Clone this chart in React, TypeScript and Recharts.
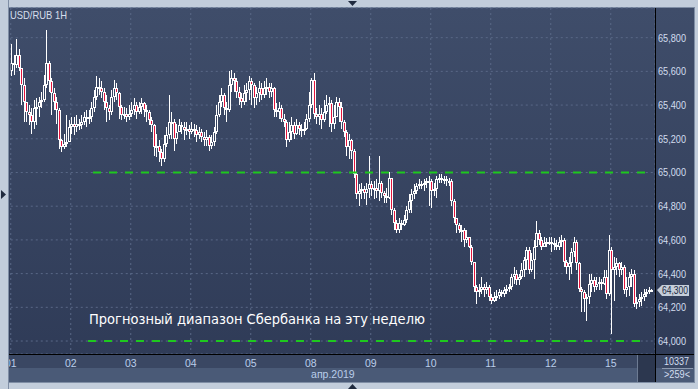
import { ComposedChart, Bar, XAxis, YAxis, CartesianGrid, ReferenceLine } from "recharts"

// hourly USD/RUB candles, 1–15 April 2019 (open = previous close)
const FIRST_OPEN = 65600

const CLOSES = [
  // 01
  65650, 65640, 65700, 65620, 65520, 65420, 65360, 65340, 65300, 65380, 65390, 65420, 65430, 65520, 65650, 65540, 65470, 65420, 65370, 65190, 65150, 65170, 65180, 65270,
  // 02
  65290, 65270, 65290, 65280, 65300, 65330, 65320, 65330, 65380, 65450, 65510, 65500, 65480, 65420, 65380, 65360, 65450, 65500, 65470, 65390, 65340, 65350, 65330, 65350,
  // 03
  65370, 65400, 65360, 65390, 65410, 65370, 65360, 65310, 65280, 65150, 65160, 65120, 65080, 65170, 65220, 65300, 65300, 65200, 65240, 65280, 65270, 65250, 65260, 65240,
  // 04
  65260, 65250, 65220, 65240, 65210, 65190, 65210, 65160, 65180, 65240, 65340, 65420, 65460, 65380, 65370, 65520, 65560, 65540, 65480, 65440, 65420, 65470, 65490, 65540,
  // 05
  65520, 65440, 65470, 65500, 65460, 65500, 65510, 65480, 65500, 65370, 65360, 65380, 65320, 65300, 65190, 65240, 65280, 65230, 65280, 65260, 65250, 65260, 65320, 65400,
  // 08
  65550, 65350, 65330, 65350, 65310, 65360, 65400, 65410, 65290, 65330, 65420, 65390, 65300, 65240, 65150, 65190, 65130, 64990, 64870, 64890, 64900, 64880, 64900, 64930,
  // 09
  64900, 64910, 64890, 64940, 64880, 64860, 64850, 64970, 64780, 64700, 64660, 64700, 64690, 64720, 64780, 64830, 64870, 64890, 64920, 64930, 64930, 64940, 64950, 64950,
  // 10
  64890, 64900, 64960, 64970, 64960, 64960, 64950, 64950, 64830, 64730, 64690, 64660, 64660, 64600, 64620, 64560, 64470, 64320, 64290, 64300, 64320, 64300, 64320, 64260,
  // 11
  64240, 64260, 64270, 64290, 64280, 64300, 64310, 64320, 64380, 64400, 64360, 64380, 64420, 64480, 64540, 64420, 64480, 64560, 64640, 64600, 64560, 64580, 64590, 64590,
  // 12
  64580, 64570, 64560, 64590, 64600, 64470, 64440, 64460, 64530, 64590, 64460, 64310, 64290, 64250, 64260, 64340, 64360, 64320, 64340, 64350, 64340, 64380, 64280, 64540,
  // 15
  64420, 64440, 64460, 64420, 64440, 64300, 64320, 64380, 64400, 64220, 64230, 64250, 64260, 64280, 64290, 64300, 64300,
]

const HIGHS = [
  65760, 65700, 65790, 65730, 65620, 65560, 65420, 65400, 65380, 65430, 65440, 65450, 65480, 65580, 65845, 65660, 65560, 65500, 65450, 65380, 65200, 65230, 65340, 65310,
  65330, 65330, 65340, 65320, 65340, 65360, 65370, 65370, 65420, 65490, 65570, 65560, 65540, 65500, 65460, 65400, 65490, 65550, 65530, 65480, 65400, 65390, 65380, 65400,
  65420, 65440, 65420, 65420, 65440, 65420, 65400, 65370, 65330, 65290, 65230, 65190, 65140, 65220, 65270, 65460, 65360, 65320, 65290, 65320, 65300, 65300, 65300, 65280,
  65300, 65290, 65280, 65270, 65260, 65240, 65250, 65220, 65220, 65270, 65400, 65460, 65500, 65470, 65420, 65600, 65610, 65590, 65560, 65510, 65470, 65520, 65530, 65570,
  65560, 65530, 65510, 65540, 65530, 65540, 65560, 65530, 65530, 65510, 65410, 65420, 65400, 65350, 65310, 65300, 65330, 65300, 65320, 65300, 65290, 65300, 65350, 65480,
  65560, 65590, 65380, 65400, 65380, 65430, 65460, 65450, 65430, 65400, 65450, 65440, 65420, 65310, 65250, 65230, 65200, 65140, 65000, 64930, 64940, 64920, 64940, 65100,
  64950, 64950, 64960, 65100, 64950, 64890, 64910, 65000, 64970, 64790, 64720, 64730, 64720, 64750, 64800, 64870, 64900, 64930, 64940, 64960, 64950, 64960, 64970, 64980,
  64960, 64940, 64980, 64990, 64990, 64980, 64980, 64970, 64960, 64840, 64730, 64700, 64690, 64670, 64660, 64620, 64570, 64470, 64330, 64340, 64380, 64340, 64350, 64330,
  64280, 64290, 64300, 64310, 64300, 64320, 64330, 64340, 64400, 64440, 64420, 64400, 64460, 64500, 64560, 64560, 64520, 64600, 64710, 64660, 64620, 64620, 64610, 64620,
  64620, 64610, 64600, 64620, 64630, 64610, 64480, 64500, 64550, 64620, 64600, 64470, 64320, 64300, 64280, 64400, 64400, 64380, 64380, 64380, 64370, 64420, 64420, 64630,
  64560, 64500, 64490, 64470, 64470, 64450, 64380, 64410, 64430, 64420, 64260, 64280, 64290, 64310, 64310, 64320, 64310,
]

const LOWS = [
  65570, 65580, 65620, 65600, 65400, 65300, 65300, 65280, 65230, 65260, 65280, 65330, 65380, 65420, 65500, 65480, 65340, 65370, 65290, 65140, 65120, 65140, 65150, 65230,
  65230, 65220, 65240, 65250, 65260, 65280, 65270, 65290, 65300, 65360, 65430, 65460, 65440, 65370, 65300, 65310, 65340, 65420, 65430, 65320, 65310, 65320, 65300, 65310,
  65330, 65340, 65320, 65350, 65350, 65330, 65300, 65280, 65240, 65100, 65090, 65060, 65040, 65060, 65150, 65200, 65200, 65130, 65170, 65240, 65230, 65190, 65220, 65200,
  65230, 65210, 65180, 65200, 65180, 65160, 65160, 65130, 65140, 65160, 65230, 65330, 65390, 65340, 65300, 65360, 65480, 65480, 65440, 65400, 65380, 65400, 65420, 65430,
  65400, 65380, 65400, 65420, 65430, 65440, 65460, 65440, 65450, 65330, 65330, 65320, 65300, 65270, 65150, 65180, 65190, 65200, 65220, 65220, 65210, 65220, 65250, 65300,
  65380, 65320, 65290, 65280, 65260, 65300, 65350, 65270, 65240, 65260, 65330, 65300, 65260, 65210, 65100, 65080, 65080, 64970, 64840, 64800, 64840, 64840, 64810, 64850,
  64860, 64840, 64850, 64830, 64850, 64820, 64820, 64840, 64750, 64660, 64640, 64640, 64660, 64680, 64700, 64760, 64760, 64840, 64870, 64900, 64900, 64890, 64910, 64800,
  64790, 64860, 64850, 64940, 64940, 64930, 64920, 64920, 64800, 64700, 64640, 64640, 64590, 64560, 64580, 64550, 64450, 64290, 64220, 64260, 64280, 64260, 64280, 64240,
  64220, 64230, 64240, 64250, 64260, 64260, 64280, 64290, 64300, 64340, 64330, 64330, 64370, 64380, 64420, 64400, 64410, 64370, 64560, 64570, 64540, 64560, 64560, 64570,
  64530, 64540, 64540, 64540, 64560, 64440, 64400, 64360, 64400, 64500, 64420, 64290, 64170, 64170, 64120, 64220, 64290, 64290, 64300, 64300, 64300, 64330, 64250, 64270,
  64040, 64240, 64390, 64380, 64390, 64280, 64260, 64270, 64320, 64200, 64190, 64200, 64210, 64240, 64260, 64280, 64290,
]

const DAY_LABELS = ["01", "02", "03", "04", "05", "08", "09", "10", "11", "12", "15"]
const DAY_TICKS = [-0.5, 23.5, 47.5, 71.5, 95.5, 119.5, 143.5, 167.5, 191.5, 215.5, 239.5]
const PRICE_TICKS = [64000, 64200, 64400, 64600, 64800, 65000, 65200, 65400, 65600, 65800]

const FORECAST_HIGH = 65000
const FORECAST_LOW = 64000
const LAST_PRICE = 64300

const candles = CLOSES.map((close, i) => {
  const open = i === 0 ? FIRST_OPEN : CLOSES[i - 1]
  const high = Math.max(HIGHS[i], open, close)
  const low = Math.min(LOWS[i], open, close)
  return { i, open, close, high, low, range: [low, high] }
})

const RED = "#e3143c"

function Candle(props: any) {
  const { x, y, width, height, payload } = props
  if (x == null || !payload) return <g />
  const { open, close, high, low } = payload
  const span = high - low || 1
  const py = (v: number) => y + ((high - v) / span) * height
  const cx = Math.floor(x + width / 2)
  const yh = Math.round(py(high))
  const yl = Math.round(py(low))
  const top = Math.round(py(Math.max(open, close)))
  let bot = Math.round(py(Math.min(open, close)))
  if (bot - top < 2) bot = top + 2
  const down = close < open
  const h = bot - top
  return (
    <g shapeRendering="crispEdges">
      {top > yh && <rect x={cx} y={yh} width={1} height={top - yh} fill="#ffffff" />}
      {yl > bot && <rect x={cx} y={bot} width={1} height={yl - bot} fill="#ffffff" />}
      <rect x={cx - 1} y={top} width={3} height={h} fill="#ffffff" />
      {h >= 3 && (
        <rect x={cx} y={top + 1} width={1} height={h - 2} fill={down ? RED : "#36435f"} />
      )}
    </g>
  )
}

function DayTick({ x, payload }: any) {
  const label = DAY_LABELS[DAY_TICKS.indexOf(payload.value)]
  return (
    <text x={x} y={367} textAnchor="middle" fontSize={10.5} fill="#b9cdea" fontFamily="Liberation Sans, Arial, sans-serif">
      {label}
    </text>
  )
}

function PriceTick({ y, payload }: any) {
  return (
    <text x={658} y={y + 4} fontSize={10.5} textLength={28} lengthAdjust="spacingAndGlyphs" fill="#d2ddef" fontFamily="Liberation Sans, Arial, sans-serif">
      {payload.value.toLocaleString("en-US")}
    </text>
  )
}

export default function App() {
  return (
    <div style={{ position: "fixed", left: 0, top: 0, width: 698, height: 389, background: "#c2cddb", overflow: "hidden", fontFamily: "Liberation Sans, Arial, sans-serif" }}>
      <div style={{ position: "absolute", left: 8, top: 7, width: 687, height: 376, background: "#7f8ea5" }} />
      <div style={{ position: "absolute", left: 9, top: 8, width: 685, height: 374, background: "linear-gradient(#3f4d6a, #2e3a56)" }} />
      <div style={{ position: "absolute", left: 9, top: 355, width: 685, height: 13, background: "#3a4763" }} />
      <div style={{ position: "absolute", left: 9, top: 368, width: 685, height: 14, background: "#4a5a77" }} />
      <div style={{ position: "absolute", left: 637, top: 355, width: 18, height: 27, background: "#2c374f", borderLeft: "1px solid #6d7b93" }} />

      <div style={{ position: "absolute", left: 0, top: 0 }}>
        <ComposedChart width={698} height={389} data={candles} margin={{ top: 8, left: 10.75, right: 0, bottom: 0 }}>
          <CartesianGrid stroke="#5a6887" strokeDasharray="2 3" />
          <XAxis
            dataKey="i"
            type="number"
            domain={[-0.5, 257.2]}
            allowDataOverflow
            ticks={DAY_TICKS}
            interval={0}
            height={35}
            axisLine={false}
            tickLine={false}
            tick={<DayTick />}
            label={{
              value: "апр.2019",
              content: ({ viewBox }: any) => (
                <text x={viewBox.x + viewBox.width / 2} y={viewBox.y + 24} textAnchor="middle" fontSize={10.5} fill="#b9cdea" fontFamily="Liberation Sans, Arial, sans-serif">
                  апр.2019
                </text>
              ),
            }}
          />
          <YAxis
            orientation="right"
            type="number"
            domain={[63923, 65976]}
            allowDataOverflow
            ticks={PRICE_TICKS}
            interval={0}
            width={43}
            axisLine={false}
            tickLine={false}
            tick={<PriceTick />}
          />
          <Bar dataKey="range" barSize={3} isAnimationActive={false} shape={(p: any) => <Candle {...p} />} />
          <ReferenceLine
            segment={[{ x: 32.4, y: FORECAST_HIGH }, { x: 253.2, y: FORECAST_HIGH }]}
            stroke="#1ec81e"
            strokeWidth={2}
            strokeDasharray="8 8"
          />
          <ReferenceLine
            segment={[{ x: 30.4, y: FORECAST_LOW }, { x: 251.6, y: FORECAST_LOW }]}
            stroke="#1ec81e"
            strokeWidth={2}
            strokeDasharray="8 8"
            label={{
              content: ({ viewBox }: any) => (
                <text x={viewBox.x + 1} y={viewBox.y - 17} fontSize={14} textLength={336} lengthAdjust="spacingAndGlyphs" fill="#ffffff" fontFamily="DejaVu Sans, sans-serif">
                  Прогнозный диапазон Сбербанка на эту неделю
                </text>
              ),
            }}
          />
          <ReferenceLine
            y={LAST_PRICE}
            stroke="none"
            label={{
              content: ({ viewBox }: any) => {
                const ly = Math.round(viewBox.y)
                const lx = viewBox.x + viewBox.width
                return (
                  <g>
                    <polygon
                      points={`${lx + 2},${ly} ${lx + 7},${ly - 5} ${lx + 34},${ly - 5} ${lx + 34},${ly + 6} ${lx + 7},${ly + 6}`}
                      fill="#c5ceda"
                    />
                    <text x={lx + 7} y={ly + 4} fontSize={10.5} textLength={26} lengthAdjust="spacingAndGlyphs" fill="#1c2a44" fontFamily="Liberation Sans, Arial, sans-serif">
                      {LAST_PRICE.toLocaleString("en-US")}
                    </text>
                  </g>
                )
              },
            }}
          />
        </ComposedChart>
      </div>

      {/* frame lines and decorations */}
      <div style={{ position: "absolute", left: 0, top: 0, width: 8, height: 389, background: "#c2cddb", borderRight: "1px solid #7f8ea5" }} />
      <div style={{ position: "absolute", left: 9, top: 354, width: 685, height: 1, background: "#000000" }} />
      <div style={{ position: "absolute", left: 655, top: 8, width: 1, height: 374, background: "#000000" }} />
      <svg width={698} height={389} style={{ position: "absolute", left: 0, top: 0 }}>
        <text x={10} y={19} fontSize={10.5} textLength={57} lengthAdjust="spacingAndGlyphs" fill="#d6dfed" fontFamily="Liberation Sans, Arial, sans-serif">USD/RUB 1H</text>
        <polygon points="348,1 357,1 352.5,6" fill="#1f2a3e" />
        <polygon points="348,389 357,389 352.5,384" fill="#1f2a3e" />
        <polygon points="1,190 1,199 6,194.5" fill="#1f2a3e" />
        <text x={664} y={365} fontSize={10.5} textLength={25} lengthAdjust="spacingAndGlyphs" fill="#d2ddef" fontFamily="Liberation Sans, Arial, sans-serif">10337</text>
        <rect x={662} y={368} width={31} height={1} fill="#8d9ab0" />
        <text x={664} y={378} fontSize={10.5} textLength={26} lengthAdjust="spacingAndGlyphs" fill="#d2ddef" fontFamily="Liberation Sans, Arial, sans-serif">&gt;259&lt;</text>
      </svg>
    </div>
  )
}
